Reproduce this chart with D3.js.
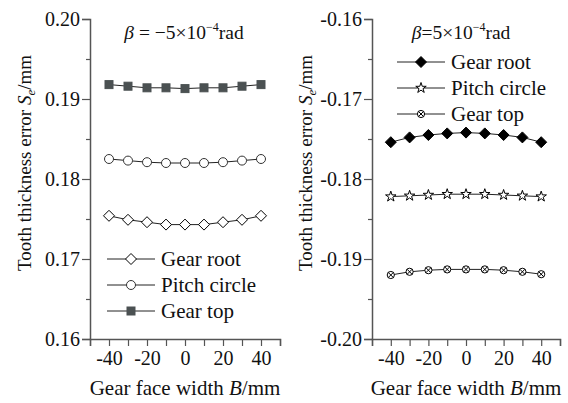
<!DOCTYPE html>
<html>
<head>
<meta charset="utf-8">
<script src="https://cdn.jsdelivr.net/npm/d3@7"></script>
<style>
  body { margin: 0; background: #fff; }
  svg text { font-family: "Liberation Serif", "Times New Roman", serif; fill: #111; }
</style>
</head>
<body>
<div id="chart-area"></div>
<script>
// data
var faceWidth = [-40, -30, -20, -10, 0, 10, 20, 30, 40];
var seriesNames = ["Gear root", "Pitch circle", "Gear top"];

// beta = -5e-4 rad
var negRoot  = [0.1754, 0.1749, 0.1746, 0.1743, 0.1743, 0.1743, 0.1746, 0.1749, 0.1754];
var negPitch = [0.1825, 0.1823, 0.1821, 0.1820, 0.1820, 0.1820, 0.1821, 0.1823, 0.1825];
var negTop   = [0.1918, 0.1916, 0.1914, 0.1914, 0.1913, 0.1914, 0.1914, 0.1916, 0.1918];

// beta = 5e-4 rad
var posRoot  = [-0.1754, -0.1748, -0.1745, -0.1743, -0.1742, -0.1743, -0.1745, -0.1748, -0.1754];
var posPitch = [-0.1822, -0.1821, -0.1820, -0.1819, -0.1819, -0.1819, -0.1820, -0.1821, -0.1822];
var posTop   = [-0.1920, -0.1916, -0.1914, -0.1913, -0.1913, -0.1913, -0.1914, -0.1916, -0.1919];

var leftYTicks = [0.16, 0.17, 0.18, 0.19, 0.20];
var rightYTicks = [-0.20, -0.19, -0.18, -0.17, -0.16];
var xTicks = [-50, -40, -30, -20, -10, 0, 10, 20, 30, 40, 50];
var xLabels = [-40, -20, 0, 20, 40];

var W = 568, H = 403;
var svg = d3.select("#chart-area").append("svg")
  .attr("width", W).attr("height", H);

var axisColor = "#555";
var lineColor = "#222";

// marker drawers
function drawMarker(g, type, x, y) {
  if (type == "diamondOpen" || type == "diamondFill") {
    var s = 5.5;
    g.append("path")
      .attr("d", "M" + x + "," + (y - s) + "L" + (x + s) + "," + y + "L" + x + "," + (y + s) + "L" + (x - s) + "," + y + "Z")
      .attr("fill", type == "diamondFill" ? "#000" : "#fff")
      .attr("stroke", "#000").attr("stroke-width", 1);
  } else if (type == "circleOpen") {
    g.append("circle").attr("cx", x).attr("cy", y).attr("r", 4.5)
      .attr("fill", "#fff").attr("stroke", "#333").attr("stroke-width", 1);
  } else if (type == "squareFill") {
    g.append("rect").attr("x", x - 4).attr("y", y - 4).attr("width", 8).attr("height", 8)
      .attr("fill", "#4b5152").attr("stroke", "#4b5152");
  } else if (type == "star") {
    g.append("path")
      .attr("d", d3.symbol().type(d3.symbolStar).size(34)())
      .attr("transform", "translate(" + x + "," + y + ")")
      .attr("fill", "#fff").attr("stroke", "#000").attr("stroke-width", 1);
  } else if (type == "circleX") {
    var r = 3.6;
    g.append("circle").attr("cx", x).attr("cy", y).attr("r", r)
      .attr("fill", "#fff").attr("stroke", "#000").attr("stroke-width", 1);
    var d = r * 0.7;
    g.append("path")
      .attr("d", "M" + (x - d) + "," + (y - d) + "L" + (x + d) + "," + (y + d) + "M" + (x + d) + "," + (y - d) + "L" + (x - d) + "," + (y + d))
      .attr("stroke", "#000").attr("stroke-width", 1);
  }
}

function drawPanel(opt) {
  var x = d3.scaleLinear().domain([-50, 50]).range([opt.x0, opt.x1]);
  var y = d3.scaleLinear().domain(opt.yDomain).range([339, 19]);
  var g = svg.append("g");

  // y axis
  var yAxis = d3.axisLeft(y).tickValues(opt.yTicks).tickSize(8).tickFormat(function(d) { return d.toFixed(2); });
  var ya = g.append("g").attr("transform", "translate(" + opt.x0 + ",0)").call(yAxis);
  var minorY = [];
  for (var i = 0; i < opt.yTicks.length - 1; i++) minorY.push((opt.yTicks[i] + opt.yTicks[i + 1]) / 2);
  g.append("g").attr("transform", "translate(" + opt.x0 + ",0)")
    .call(d3.axisLeft(y).tickValues(minorY).tickSize(4).tickFormat(""))
    .select(".domain").remove();

  // x axis
  var xAxis = d3.axisBottom(x).tickValues(xTicks).tickSize(7)
    .tickFormat(function(d) { return xLabels.indexOf(d) >= 0 ? String(d) : ""; });
  var xa = g.append("g").attr("transform", "translate(0,339)").call(xAxis);

  g.selectAll(".domain").attr("stroke", axisColor).attr("stroke-width", 1.5);
  g.selectAll(".tick line").attr("stroke", axisColor).attr("stroke-width", 1.2);
  ya.selectAll(".tick text").attr("font-size", "20px").attr("x", -10).attr("fill", "#111");
  xa.selectAll(".tick text").attr("font-size", "20px").attr("y", 12).attr("fill", "#111");

  // axis titles
  var yl = g.append("text")
    .attr("transform", "translate(" + opt.yLabelX + ",163) rotate(-90)")
    .attr("text-anchor", "middle").attr("font-size", "19px");
  yl.append("tspan").text("Tooth thickness error ");
  yl.append("tspan").attr("font-style", "italic").text("S");
  yl.append("tspan").attr("font-style", "italic").attr("font-size", "13px").attr("dy", 4).text("e");
  yl.append("tspan").attr("dy", -4).text("/mm");

  var xl = g.append("text")
    .attr("x", (opt.x0 + opt.x1) / 2).attr("y", 395)
    .attr("text-anchor", "middle").attr("font-size", "21px");
  xl.append("tspan").text("Gear face width ");
  xl.append("tspan").attr("font-style", "italic").text("B");
  xl.append("tspan").text("/mm");

  // series
  var line = d3.line().x(function(d) { return x(d[0]); }).y(function(d) { return y(d[1]); });
  opt.series.forEach(function(s) {
    var pts = faceWidth.map(function(v, i) { return [v, s.values[i]]; });
    g.append("path").datum(pts).attr("d", line)
      .attr("fill", "none").attr("stroke", lineColor).attr("stroke-width", 1);
    pts.forEach(function(p) { drawMarker(g, s.marker, x(p[0]), y(p[1])); });
  });

  // legend
  opt.series.forEach(function(s, i) {
    var ly = opt.legY + i * 26;
    g.append("line").attr("x1", opt.legX).attr("x2", opt.legX + 48)
      .attr("y1", ly).attr("y2", ly).attr("stroke", lineColor).attr("stroke-width", 1);
    drawMarker(g, s.marker, opt.legX + 24, ly);
    g.append("text").attr("x", opt.legX + 54).attr("y", ly + 7)
      .attr("font-size", "21px").text(s.name);
  });

  // title
  var t = g.append("text").attr("x", opt.titleX).attr("y", 39)
    .attr("text-anchor", "middle").attr("font-size", "19.5px");
  t.append("tspan").attr("font-style", "italic").text("\u03b2");
  t.append("tspan").text(opt.titleMid);
  t.append("tspan").attr("font-size", "12px").attr("dy", -8).text("\u22124");
  t.append("tspan").attr("dy", 8).text("rad");
}

drawPanel({
  x0: 90, x1: 280, yDomain: [0.16, 0.20], yTicks: leftYTicks, yLabelX: 31,
  legX: 107, legY: 259, titleX: 184, titleMid: " = \u22125\u00d710",
  series: [
    { name: seriesNames[0], values: negRoot, marker: "diamondOpen" },
    { name: seriesNames[1], values: negPitch, marker: "circleOpen" },
    { name: seriesNames[2], values: negTop, marker: "squareFill" }
  ]
});

drawPanel({
  x0: 372, x1: 560, yDomain: [-0.20, -0.16], yTicks: rightYTicks, yLabelX: 312,
  legX: 397, legY: 62, titleX: 461, titleMid: "=5\u00d710",
  series: [
    { name: seriesNames[0], values: posRoot, marker: "diamondFill" },
    { name: seriesNames[1], values: posPitch, marker: "star" },
    { name: seriesNames[2], values: posTop, marker: "circleX" }
  ]
});
</script>
</body>
</html>
